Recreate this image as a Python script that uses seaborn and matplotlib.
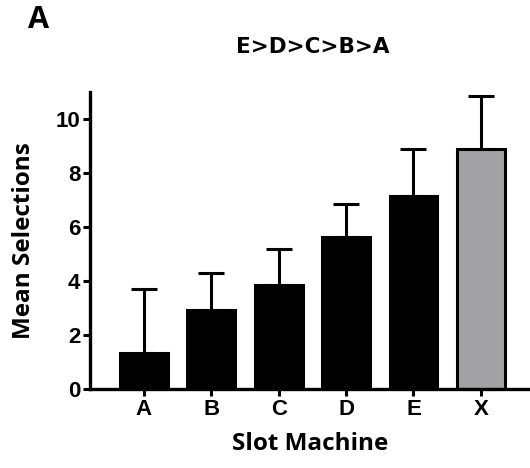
import matplotlib
matplotlib.use("Agg")
import matplotlib.pyplot as plt
import seaborn as sns
import pandas as pd

machines = ["A", "B", "C", "D", "E", "X"]
mean_sel = [1.33, 2.91, 3.86, 5.62, 7.16, 8.88]
err_upper = [2.36, 1.38, 1.31, 1.23, 1.74, 1.98]
bar_colors = ["#000000", "#000000", "#000000", "#000000", "#000000", "#a2a1a6"]

df = pd.DataFrame({"machine": machines, "mean": mean_sel})

sns.set_style("ticks", {"axes.edgecolor": "black", "text.color": "black",
                        "axes.labelcolor": "black", "xtick.color": "black",
                        "ytick.color": "black"})
plt.rcParams["font.family"] = ["Liberation Sans", "DejaVu Sans"]
humanist = ["Open Sans", "DejaVu Sans"]

fig = plt.figure(figsize=(5.3, 4.68), dpi=100)
ax = fig.add_axes([0.170, 0.169, 0.83, 0.634])

sns.barplot(data=df, x="machine", y="mean", hue="machine", palette=bar_colors,
            legend=False, errorbar=None, width=0.71, edgecolor="black",
            linewidth=2.2, ax=ax, saturation=1)
ax.errorbar(range(len(machines)), mean_sel, yerr=[[0] * len(machines), err_upper],
            fmt="none", ecolor="black", elinewidth=2.2, capsize=9.5, capthick=2.2,
            zorder=1)

ax.set_xlim(-0.8, 5.73)
ax.set_ylim(0, 11)
ax.set_yticks([0, 2, 4, 6, 8, 10])
sns.despine(ax=ax)
for s in ["left", "bottom"]:
    ax.spines[s].set_linewidth(2.4)
ax.tick_params(width=2.2, length=5, pad=2, colors="black")
for lab in ax.get_xticklabels() + ax.get_yticklabels():
    lab.set_fontweight("bold")
    lab.set_fontsize(16)

ax.set_xlabel("Slot Machine", fontsize=17.5, fontweight="bold", labelpad=9,
              family=humanist)
ax.set_ylabel("Mean Selections", fontsize=17.5, fontweight="bold", labelpad=14,
              family=humanist)

fig.text(0.59, 0.899, "E>D>C>B>A", ha="center", va="center", fontsize=15.5,
         fontweight="bold", family=["DejaVu Sans"])
fig.text(0.053, 0.958, "A", ha="left", va="center", fontsize=22,
         fontweight="bold", family=humanist)

fig.savefig("out.png", dpi=100)
